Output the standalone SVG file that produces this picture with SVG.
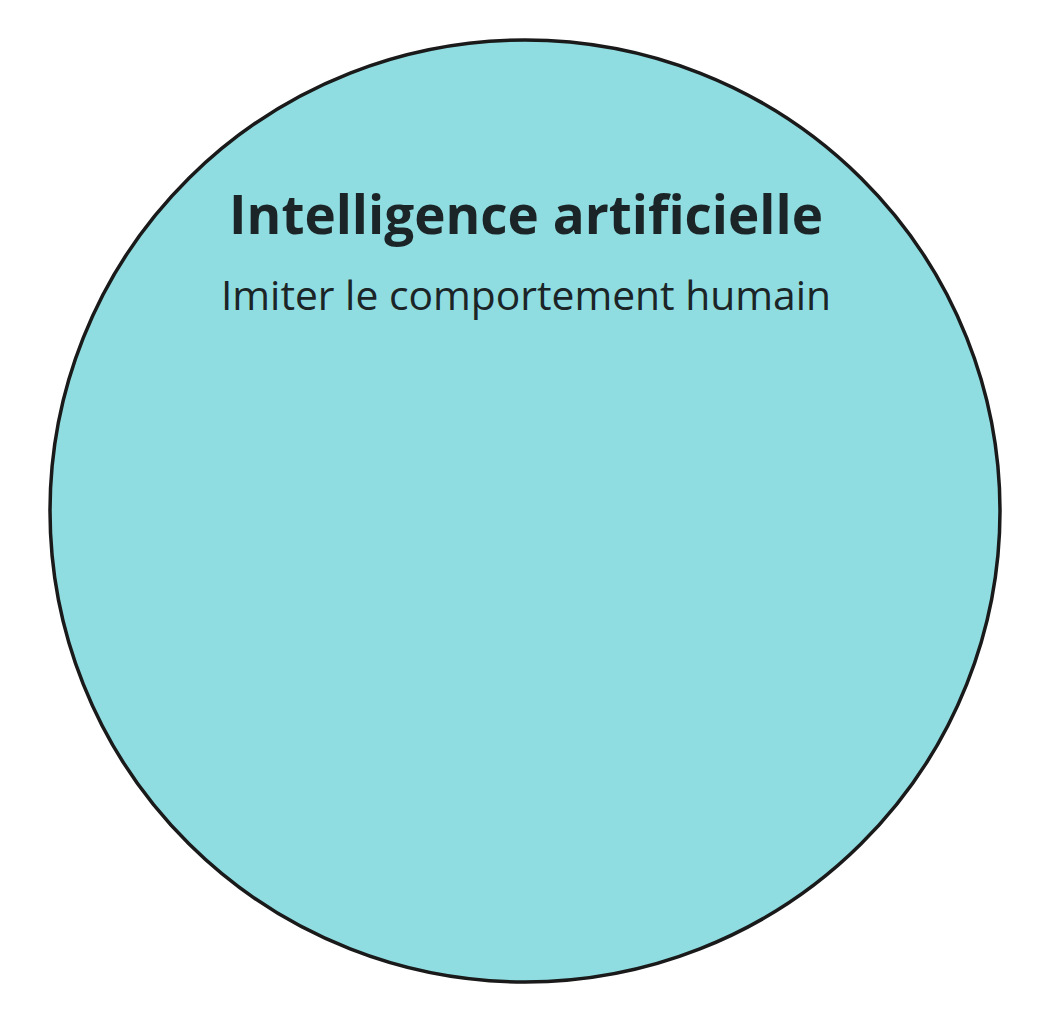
<svg xmlns="http://www.w3.org/2000/svg" width="1052" height="1024" viewBox="0 0 1052 1024">
<style>
.t{font-family:"Open Sans","Noto Sans",sans-serif;fill:#1b2426;text-anchor:middle}
.b{font-weight:700;font-size:53px}
.s{font-size:40.8px}
</style>
<rect width="1052" height="1024" fill="#ffffff"/>
<g id="ai">
<ellipse cx="525" cy="511" rx="475" ry="471" fill="#8fdde1" stroke="#1a1a1a" stroke-width="3.5"/>
<text class="t b" x="526" y="234">Intelligence artificielle</text>
<text class="t s" x="526" y="310">Imiter le comportement humain</text>
</g>
<g id="connectors"/>
</svg>
